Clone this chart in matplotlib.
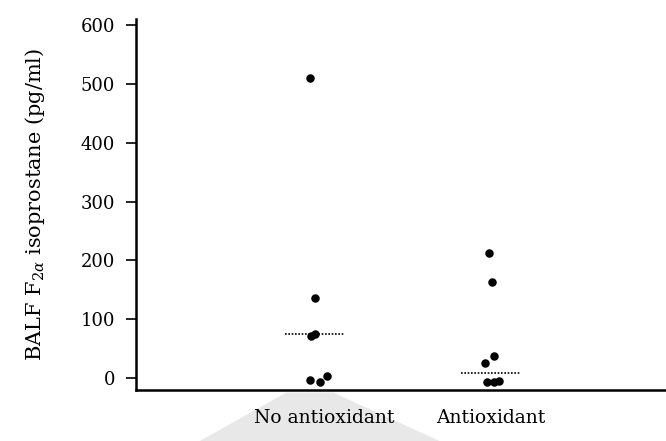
import numpy as np
import matplotlib
matplotlib.use("Agg")
import matplotlib.pyplot as plt
from matplotlib.patches import Polygon

# Data
groups = ["No antioxidant", "Antioxidant"]
no_antiox = [510, 136, 75, 71, 4, -3, -6]
no_antiox_jitter = [-0.03, 0.0, 0.0, -0.02, 0.07, -0.03, 0.03]
antiox = [212, 163, 37, 25, -6, -6, -5]
antiox_jitter = [-0.01, 0.01, 0.02, -0.03, -0.02, 0.02, 0.05]
medians = [75, 8]

plt.rcParams["font.family"] = ["DejaVu Serif"]
plt.rcParams["mathtext.fontset"] = "dejavuserif"

fig = plt.figure(figsize=(6.66, 4.41), dpi=100)
ax = fig.add_axes([0.204, 0.116, 0.796, 0.84])

# faint grey scan shading under the labels
shade = Polygon([[0.30, 0.0], [0.43, 0.11], [0.5, 0.11], [0.66, 0.0]],
                closed=True, transform=fig.transFigure,
                facecolor="#e8e8e8", edgecolor="none", zorder=-5)
fig.patches.append(shade)

ax.scatter(1 + np.array(no_antiox_jitter), no_antiox, s=26, color="black", zorder=3)
ax.scatter(2 + np.array(antiox_jitter), antiox, s=26, color="black", zorder=3)

for i, m in enumerate(medians):
    ax.plot([i + 1 - 0.17, i + 1 + 0.17], [m, m], color="black", lw=1.2,
            linestyle=(0, (1, 1)), zorder=2)

ax.set_xlim(-0.02, 3.0)
ax.set_ylim(-20, 610)
ax.set_yticks([0, 100, 200, 300, 400, 500, 600])
ax.set_xticks([1.05, 2])
ax.set_xticklabels(groups, fontsize=13.5)
ax.tick_params(axis="x", length=0, pad=14)
ax.tick_params(axis="y", length=7, width=1.2, labelsize=13, pad=8)
ax.set_ylabel(r"BALF F$_{2\alpha}$ isoprostane (pg/ml)", fontsize=15, labelpad=24)

ax.spines["top"].set_visible(False)
ax.spines["right"].set_visible(False)
ax.spines["left"].set_linewidth(1.8)
ax.spines["bottom"].set_linewidth(1.8)
ax.patch.set_alpha(0)

fig.savefig("out.png", dpi=100)
